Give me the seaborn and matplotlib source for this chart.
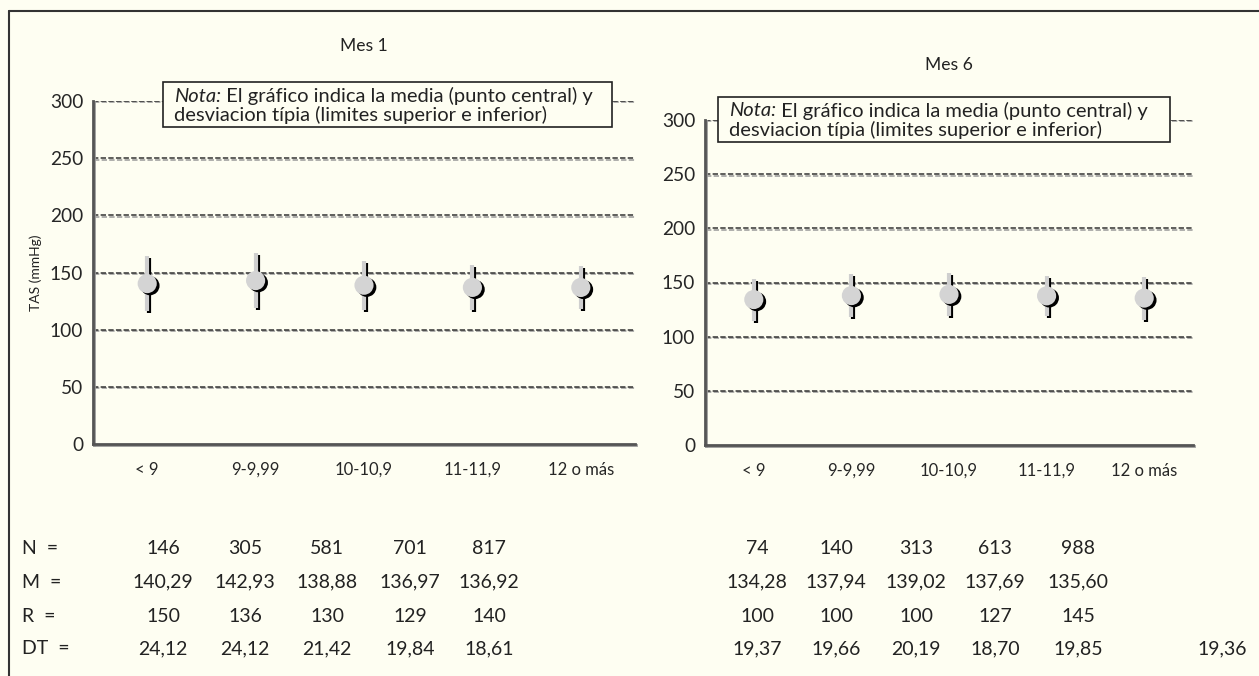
import numpy as np
import pandas as pd
import seaborn as sns
import matplotlib.pyplot as plt
import matplotlib.patheffects as pe
from matplotlib.patches import Rectangle
from matplotlib.lines import Line2D
from matplotlib.text import Annotation

# datos
categorias = ["< 9", "9-9,99", "10-10,9", "11-11,9", "12 o más"]

n_mes1 = [146, 305, 581, 701, 817]
m_mes1 = [140.29, 142.93, 138.88, 136.97, 136.92]
r_mes1 = [150, 136, 130, 129, 140]
dt_mes1 = [24.12, 24.12, 21.42, 19.84, 18.61]

n_mes6 = [74, 140, 313, 613, 988]
m_mes6 = [134.28, 137.94, 139.02, 137.69, 135.60]
r_mes6 = [100, 100, 100, 127, 145]
dt_mes6 = [19.37, 19.66, 20.19, 18.70, 19.85]
dt_extra = 19.36

yticks = [0, 50, 100, 150, 200, 250, 300]

fondo = "#fefef2"
sns.set_theme(style="white")
plt.rcParams["font.family"] = ["Lato", "DejaVu Sans"]
plt.rcParams["text.color"] = "#222222"

W, H = 1259, 676
fig = plt.figure(figsize=(W / 100, H / 100), dpi=100, facecolor=fondo)


def px(x0, y0, x1, y1):
    # caja en pixeles (desde arriba) -> fracciones de figura
    return [x0 / W, 1 - y1 / H, (x1 - x0) / W, (y1 - y0) / H]


def coma(v):
    return f"{v:.2f}".replace(".", ",")


sombra_linea = [pe.SimpleLineShadow(offset=(1.5, -1.5), shadow_color="black", alpha=1), pe.Normal()]
sombra_grid = [pe.SimpleLineShadow(offset=(0.8, -1.0), shadow_color="#999999", alpha=1), pe.Normal()]


def panel(ax, medias, dts, titulo, ytit):
    df = pd.DataFrame({"pos": np.arange(len(categorias)), "grupo": categorias,
                       "media": medias, "dt": dts})
    ax.set_facecolor(fondo)
    ax.vlines(df["pos"], df["media"] - df["dt"], df["media"] + df["dt"],
              color="#cfcfcf", lw=3, zorder=3, path_effects=sombra_linea)
    sns.scatterplot(data=df, x="pos", y="media", ax=ax, s=190, color="#d4d4d4",
                    edgecolor="none", zorder=4, legend=False)
    ax.collections[-1].set_path_effects(
        [pe.SimplePatchShadow(offset=(2, -1.5), shadow_rgbFace="black", alpha=1), pe.Normal()])

    ax.set_xlim(-0.5, len(categorias) - 0.5)
    ax.set_ylim(0, 300)
    ax.set_yticks(yticks)
    ax.set_yticklabels([str(t) for t in yticks], fontsize=13.8)
    ax.set_xticks(df["pos"])
    ax.set_xticklabels(categorias, fontsize=12)
    ax.set_xticks(np.arange(len(categorias) + 1) - 0.5, minor=True)
    ax.tick_params(axis="x", which="major", length=0, pad=13)
    ax.tick_params(axis="x", which="minor", length=5, width=1.2, color="#444", direction="out")
    ax.tick_params(axis="y", length=8, width=1.2, color="#444", direction="inout", pad=3)
    ax.set_xlabel("")
    ax.set_ylabel("")

    for v in yticks[1:]:
        ax.axhline(v, color="#333333", lw=1.1, ls=(0, (3.5, 1.5)), zorder=1,
                   path_effects=sombra_grid)

    for lado in ["top", "right"]:
        ax.spines[lado].set_visible(False)
    for lado in ["left", "bottom"]:
        ax.spines[lado].set_color("#555555")
        ax.spines[lado].set_linewidth(2)
        ax.spines[lado].set_path_effects(
            [pe.SimpleLineShadow(offset=(1, -1), shadow_color="#999999", alpha=1), pe.Normal()])

    ax.text(0.5, ytit, titulo, transform=ax.transAxes, ha="center", va="center", fontsize=12.6)


ax1 = fig.add_axes(px(93, 101, 635, 444))
ax2 = fig.add_axes(px(705, 120, 1193, 445))
panel(ax1, m_mes1, dt_mes1, "Mes 1", 1.16)
panel(ax2, m_mes6, dt_mes6, "Mes 6", 1.17)

ax1.text(-0.105, 0.5, "TAS (mmHg)", transform=ax1.transAxes, rotation=90,
         ha="center", va="center", fontsize=10)

tam_nota = 14.5


def nota(x0, y0, x1, y1):
    fig.add_artist(Rectangle((x0 / W, 1 - y1 / H), (x1 - x0) / W, (y1 - y0) / H,
                             transform=fig.transFigure, facecolor=fondo,
                             edgecolor="#222222", lw=1.2, zorder=5))
    t = fig.text((x0 + 11) / W, 1 - (y0 + 14) / H, "Nota:", style="italic",
                 fontsize=tam_nota, va="center", zorder=6)
    fig.add_artist(Annotation(" El gráfico indica la media (punto central) y",
                              xy=(1, 0.5), xycoords=t, va="center", ha="left",
                              fontsize=tam_nota, zorder=6))
    fig.text((x0 + 11) / W, 1 - (y0 + 33) / H,
             "desviacion típia (limites superior e inferior)", fontsize=tam_nota,
             va="center", zorder=6)


nota(163, 82, 612, 127)
nota(718, 97, 1170, 142)

# tabla inferior
filas_y = [549, 582, 616, 649]
etiquetas = ["N =", "M =", "R =", "DT ="]
col1 = [163, 245, 327, 410, 489]
col6 = [757, 836, 916, 995, 1078]
tam_tabla = 14

for y, et in zip(filas_y, etiquetas):
    fig.text(22 / W, 1 - y / H, et.replace(" ", "  "), fontsize=tam_tabla, va="center", ha="left")

tabla1 = [[str(v) for v in n_mes1], [coma(v) for v in m_mes1],
          [str(v) for v in r_mes1], [coma(v) for v in dt_mes1]]
tabla6 = [[str(v) for v in n_mes6], [coma(v) for v in m_mes6],
          [str(v) for v in r_mes6], [coma(v) for v in dt_mes6]]

for y, f1, f6 in zip(filas_y, tabla1, tabla6):
    for x, s in zip(col1, f1):
        fig.text(x / W, 1 - y / H, s, fontsize=tam_tabla, va="center", ha="center")
    for x, s in zip(col6, f6):
        fig.text(x / W, 1 - y / H, s, fontsize=tam_tabla, va="center", ha="center")
fig.text(1222 / W, 1 - filas_y[-1] / H, coma(dt_extra), fontsize=tam_tabla, va="center", ha="center")

# marco exterior (solo arriba e izquierda)
fig.add_artist(Line2D([9 / W, 1], [1 - 11 / H, 1 - 11 / H], transform=fig.transFigure,
                      color="#333333", lw=1.5))
fig.add_artist(Line2D([9 / W, 9 / W], [0, 1 - 11 / H], transform=fig.transFigure,
                      color="#333333", lw=1.5))

fig.savefig("out.png", dpi=100, facecolor=fondo)
